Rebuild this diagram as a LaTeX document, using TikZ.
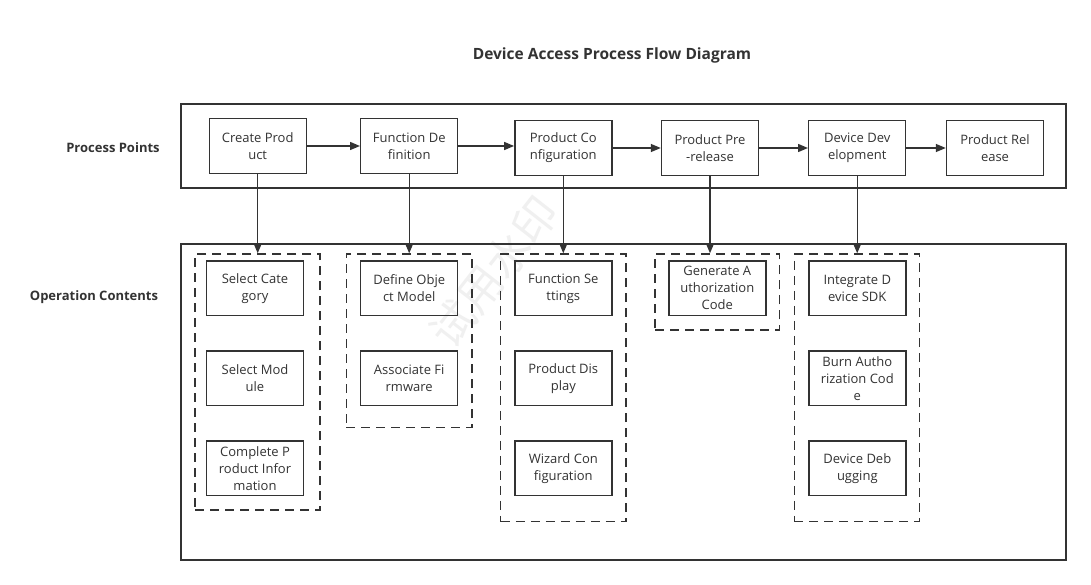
\documentclass[tikz,border=0pt]{standalone}
\usepackage{fontspec}
\setmainfont{Open Sans}
\newfontfamily\cjkwm{Noto Sans CJK SC}
\usetikzlibrary{arrows.meta}
\definecolor{ink}{HTML}{333333}
\tikzset{
  stepbox/.style={draw=ink, line width=1.4pt, minimum width=97pt, minimum height=54.5pt, inner sep=0pt,
    align=center, font=\fontsize{13}{17}\selectfont, text=ink},
  groupbox/.style={draw=ink, line width=1.4pt, dash pattern=on 9pt off 6pt, inner sep=0pt},
  container/.style={draw=ink, line width=1.4pt},
  flow/.style={draw=ink, line width=1.4pt, -{Triangle[length=10pt,width=8pt]}},
  lbl/.style={font=\bfseries\fontsize{13}{16}\selectfont, text=ink}
}
\begin{document}
\begin{tikzpicture}[x=1pt,y=-1pt]
\useasboundingbox (0,0) rectangle (1091,585);
\fill[white] (0,0) rectangle (1091,585);
% watermark
\node[rotate=52, text=black!6, font=\cjkwm\fontsize{44}{44}\selectfont] (wm) at (494,272) {试用水印};
% title and row labels
\node[font=\bfseries\fontsize{15.5}{18}\selectfont, text=ink] (title) at (612,55) {Device Access Process Flow Diagram};
\node[lbl] (lp) at (113,148) {Process Points};
\node[lbl] (lo) at (94,297) {Operation Contents};
% containers
\draw[container] (181,104) rectangle (1066,188);
\draw[container] (181,244) rectangle (1066,560);
% dashed groups
\node[groupbox, minimum width=125pt, minimum height=256pt] (g1) at (257.5,382) {};
\node[groupbox, minimum width=125.7pt, minimum height=173.3pt] (g2) at (409.2,340.7) {};
\node[groupbox, minimum width=125.3pt, minimum height=267.7pt] (g3) at (563.4,387.9) {};
\node[groupbox, minimum width=124.3pt, minimum height=76pt] (g4) at (717.2,292) {};
\node[groupbox, minimum width=125.3pt, minimum height=267.7pt] (g5) at (857,387.9) {};
% process points
\node[stepbox] (cp) at (257.7,146) {Create Prod\\uct};
\node[stepbox] (fd) at (409.2,146) {Function De\\finition};
\node[stepbox] (pc) at (563.3,148) {Product Co\\nfiguration};
\node[stepbox] (pr) at (710,148) {Product Pre\\-release};
\node[stepbox] (dd) at (857.2,148) {Device Dev\\elopment};
\node[stepbox] (rel) at (995,148) {Product Rel\\ease};
% operation contents
\node[stepbox] (sc) at (255,288.3) {Select Cate\\gory};
\node[stepbox] (sm) at (255,378.2) {Select Mod\\ule};
\node[stepbox] (cpi) at (255,468.3) {Complete P\\roduct Infor\\mation};
\node[stepbox] (dom) at (409.2,288.3) {Define Obje\\ct Model};
\node[stepbox] (af) at (409.2,378.2) {Associate Fi\\rmware};
\node[stepbox] (fs) at (563.3,288.3) {Function Se\\ttings};
\node[stepbox] (pd) at (563.3,378.2) {Product Dis\\play};
\node[stepbox] (wc) at (563.3,468.3) {Wizard Con\\figuration};
\node[stepbox] (gac) at (717.3,288.3) {Generate A\\uthorization\\Code};
\node[stepbox] (ids) at (857.3,288.3) {Integrate D\\evice SDK};
\node[stepbox] (bac) at (857.3,378.2) {Burn Autho\\rization Cod\\e};
\node[stepbox] (ddb) at (857.3,468.3) {Device Deb\\ugging};
% horizontal flow
\draw[flow] (cp.east) -- (cp.east -| fd.west);
\draw[flow] (fd.east) -- (fd.east -| pc.west);
\draw[flow] (pc.east) -- (pc.east -| pr.west);
\draw[flow] (pr.east) -- (pr.east -| dd.west);
\draw[flow] (dd.east) -- (dd.east -| rel.west);
% vertical flow
\draw[flow] (cp.south) -- (cp.south |- g1.north);
\draw[flow] (fd.south) -- (fd.south |- g2.north);
\draw[flow] (pc.south) -- (pc.south |- g3.north);
\draw[flow] (pr.south) -- (pr.south |- g4.north);
\draw[flow] (dd.south) -- (dd.south |- g5.north);
\end{tikzpicture}
\end{document}
